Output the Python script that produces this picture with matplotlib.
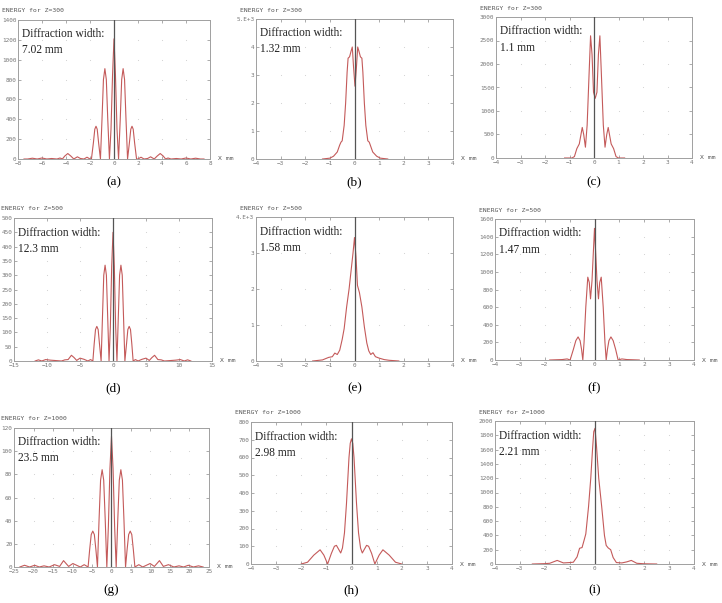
import numpy as np
import matplotlib
matplotlib.use('Agg')
import matplotlib.pyplot as plt

# ---- data (x in mm, energy) ----
x_a = [-7.5, -7.2, -6.8, -6.4, -6.0, -5.6, -5.2, -4.75, -4.5, -4.3, -4.1, -3.85, -3.6, -3.35, -3.05, -2.8, -2.5, -2.25, -2.0,
       -1.88, -1.72, -1.6, -1.5, -1.4, -1.28, -1.13, -1.0, -0.88, -0.76, -0.64, -0.52, -0.38, -0.25, -0.12,
       0.0, 0.12, 0.25, 0.38, 0.52, 0.64, 0.76, 0.88, 1.0, 1.13, 1.28, 1.4, 1.5, 1.6, 1.72, 1.88,
       2.0, 2.25, 2.5, 2.8, 3.05, 3.35, 3.6, 3.85, 4.1, 4.3, 4.5, 4.75, 5.2, 5.6, 6.0, 6.4, 6.8, 7.2, 7.5]
e_a = [0, 0, 8, 0, 10, 0, 5, 0, 10, 0, 30, 55, 30, 0, 22, 5, 0, 18, 0,
       0, 160, 300, 330, 300, 160, 0, 400, 800, 910, 800, 400, 0, 300, 850,
       1210, 850, 300, 0, 400, 800, 910, 800, 400, 0, 160, 300, 330, 300, 160, 0,
       0, 18, 0, 5, 22, 0, 30, 55, 30, 0, 10, 0, 5, 0, 10, 0, 8, 0, 0]

x_b = [-1.3, -1.0, -0.85, -0.7, -0.6, -0.55, -0.5, -0.42, -0.36, -0.3, -0.26, -0.2, -0.14, -0.09, -0.04,
       0.02, 0.08, 0.13, 0.18, 0.24, 0.3, 0.34, 0.4, 0.46, 0.54, 0.6, 0.64, 0.74, 0.9, 1.05, 1.35]
e_b = [0, 0.03, 0.1, 0.25, 0.5, 0.6, 0.65, 1.2, 2.0, 3.1, 3.6, 3.65, 3.85, 4.0, 3.3,
       2.6, 3.3, 4.0, 3.85, 3.65, 3.6, 3.1, 2.0, 1.2, 0.65, 0.6, 0.5, 0.25, 0.1, 0.03, 0]

x_c = [-1.2, -0.9, -0.8, -0.7, -0.6, -0.48, -0.42, -0.35, -0.28, -0.2, -0.14, -0.08, -0.02,
       0.05, 0.12, 0.18, 0.24, 0.3, 0.38, 0.45, 0.52, 0.58, 0.7, 0.8, 0.9, 1.0, 1.25]
e_c = [0, 0, 30, 200, 300, 650, 500, 230, 700, 1800, 2600, 2200, 1400,
       1270, 1400, 2200, 2600, 1800, 700, 230, 500, 650, 300, 200, 30, 0, 0]

x_d = [-11.8, -11.3, -10.8, -10.2, -9.5, -7.8, -7.3, -6.8, -6.3, -5.9, -5.5, -5.0, -4.4, -3.8, -3.4, -3.05,
       -2.85, -2.65, -2.45, -2.25, -2.05, -1.8, -1.6, -1.4, -1.2, -1.0, -0.8, -0.6, -0.4, -0.2,
       0.0, 0.2, 0.4, 0.6, 0.8, 1.0, 1.2, 1.4, 1.6, 1.8, 2.05, 2.25, 2.45, 2.65, 2.85,
       3.05, 3.4, 3.8, 4.4, 5.0, 5.5, 5.9, 6.3, 6.8, 7.3, 7.8, 9.5, 10.2, 10.8, 11.3, 11.8]
e_d = [0, 4, 0, 5, 3, 0, 4, 5, 20, 12, 2, 10, 6, 0, 5, 0,
       60, 110, 121, 110, 60, 0, 150, 300, 335, 300, 150, 0, 120, 330,
       450, 330, 120, 0, 150, 300, 335, 300, 150, 0, 60, 110, 121, 110, 60,
       0, 5, 0, 6, 10, 2, 12, 20, 5, 4, 0, 3, 5, 0, 4, 0]

x_e = [-1.7, -1.3, -1.05, -0.9, -0.8, -0.7, -0.6, -0.5, -0.42, -0.32, -0.22, -0.14, -0.06, 0.0,
       0.06, 0.12, 0.2, 0.3, 0.4, 0.5, 0.58, 0.66, 0.75, 0.85, 1.0, 1.2, 1.4, 1.8]
e_e = [0, 0.03, 0.1, 0.12, 0.22, 0.18, 0.3, 0.6, 0.9, 1.5, 2.0, 2.5, 3.0, 3.43,
       2.9, 2.1, 1.9, 1.5, 0.95, 0.5, 0.28, 0.18, 0.23, 0.12, 0.08, 0.04, 0.02, 0]

x_f = [-1.8, -1.3, -1.1, -0.98, -0.85, -0.75, -0.66, -0.58, -0.52, -0.47, -0.42, -0.35, -0.27, -0.21, -0.16,
       -0.1, -0.05, 0.0, 0.05, 0.1, 0.16, 0.21, 0.27, 0.35, 0.42, 0.47, 0.52, 0.58, 0.66, 0.75, 0.85,
       0.95, 1.1, 1.3, 1.8]
e_f = [0, 5, 12, 0, 120, 220, 262, 220, 120, 0, 200, 600, 940, 880, 694,
       900, 1200, 1494, 1200, 900, 694, 880, 940, 600, 200, 0, 120, 220, 262, 220, 120,
       0, 12, 5, 0]

x_g = [-23.5, -22.3, -21.0, -19.7, -18.5, -17.3, -16.0, -14.6, -13.3, -12.3, -11.0, -9.9, -8.0, -7.0, -6.0,
       -5.6, -5.2, -4.8, -4.4, -4.0, -3.6, -3.2, -2.8, -2.4, -2.0, -1.6, -1.2, -0.8, -0.4,
       0.0, 0.4, 0.8, 1.2, 1.6, 2.0, 2.4, 2.8, 3.2, 3.6, 4.0, 4.4, 4.8, 5.2, 5.6,
       6.0, 7.0, 8.0, 9.9, 11.0, 12.3, 13.3, 14.6, 16.0, 17.3, 18.5, 19.7, 21.0, 22.3, 23.5]
e_g = [0, 1.5, 0, 1.5, 0, 1, 0, 2, 0.5, 5.5, 0.5, 3, 0, 2, 0,
       15, 28, 31, 28, 15, 0, 40, 75, 84, 75, 40, 0, 35, 85,
       112.8, 85, 35, 0, 40, 75, 84, 75, 40, 0, 15, 28, 31, 28, 15,
       0, 2, 0, 3, 0.5, 5.5, 0.5, 2, 0, 1, 0, 1.5, 0, 1, 0]

x_h = [-2.0, -1.75, -1.5, -1.25, -1.1, -0.95, -0.8, -0.68, -0.6, -0.52, -0.43, -0.36, -0.28, -0.2, -0.15,
       -0.1, -0.05, 0.0, 0.05, 0.1, 0.15, 0.2, 0.28, 0.36, 0.43, 0.52, 0.6, 0.68, 0.8, 0.93,
       1.1, 1.25, 1.5, 1.75, 2.0]
e_h = [0, 10, 50, 80, 50, 0, 60, 100, 105, 85, 62, 90, 175, 340, 470,
       600, 680, 705, 680, 600, 470, 340, 175, 90, 62, 85, 105, 100, 60, 0,
       50, 80, 50, 10, 0]

x_i = [-2.5, -2.0, -1.8, -1.5, -1.25, -1.0, -0.85, -0.7, -0.6, -0.5, -0.42, -0.35, -0.24, -0.15, -0.08,
       -0.03, 0.02, 0.08, 0.17, 0.29, 0.4, 0.47, 0.55, 0.65, 0.75, 0.88, 1.1, 1.3, 1.48, 1.7, 2.0, 2.5]
e_i = [0, 5, 10, 50, 15, 20, 25, 100, 220, 230, 330, 420, 800, 1200, 1600,
       1850, 1898, 1650, 1200, 800, 400, 260, 225, 200, 90, 20, 15, 30, 50, 10, 3, 0]

titles = ['ENERGY for Z=300'] * 3 + ['ENERGY for Z=500'] * 3 + ['ENERGY for Z=1000'] * 3
widths = ['7.02 mm', '1.32 mm', '1.1 mm', '12.3 mm', '1.58 mm', '1.47 mm', '23.5 mm', '2.98 mm', '2.21 mm']
letters = ['(a)', '(b)', '(c)', '(d)', '(e)', '(f)', '(g)', '(h)', '(i)']

xt_8 = [-8, -6, -4, -2, 0, 2, 4, 6, 8]
xt_4 = [-4, -3, -2, -1, 0, 1, 2, 3, 4]
xt_15 = [-15, -10, -5, 0, 5, 10, 15]
xt_25 = [-25, -20, -15, -10, -5, 0, 5, 10, 15, 20, 25]

yt_a = [0, 200, 400, 600, 800, 1000, 1200, 1400]
yt_b = [0, 1, 2, 3, 4, 5]
yl_b = ['0', '1', '2', '3', '4', '5.E+3']
yt_c = [0, 500, 1000, 1500, 2000, 2500, 3000]
yt_d = [0, 50, 100, 150, 200, 250, 300, 350, 400, 450, 500]
yt_e = [0, 1, 2, 3, 4]
yl_e = ['0', '1', '2', '3', '4.E+3']
yt_f = [0, 200, 400, 600, 800, 1000, 1200, 1400, 1600]
yt_g = [0, 20, 40, 60, 80, 100, 120]
yt_h = [0, 100, 200, 300, 400, 500, 600, 700, 800]
yt_i = [0, 200, 400, 600, 800, 1000, 1200, 1400, 1600, 1800, 2000]

# axes boxes in pixels: left, right, top, bottom
boxes = [(18, 210, 20, 159), (256, 453, 19, 159), (496, 692, 17, 158),
         (14, 212, 218, 361), (256, 453, 217, 361), (495, 694, 219, 360),
         (14, 209, 428, 567), (251, 452, 422, 564), (495, 694, 421, 564)]
label_y = [182, 182, 182, 388, 388, 388, 590, 590, 590]

panels = [(x_a, e_a, xt_8, yt_a, None),
          (x_b, e_b, xt_4, yt_b, yl_b),
          (x_c, e_c, xt_4, yt_c, None),
          (x_d, e_d, xt_15, yt_d, None),
          (x_e, e_e, xt_4, yt_e, yl_e),
          (x_f, e_f, xt_4, yt_f, None),
          (x_g, e_g, xt_25, yt_g, None),
          (x_h, e_h, xt_4, yt_h, None),
          (x_i, e_i, xt_4, yt_i, None)]

W, H = 722, 603
fig = plt.figure(figsize=(W / 100, H / 100), dpi=100)

mono = 'DejaVu Sans Mono'
serif = 'Liberation Serif'
gray = '#8a8a8a'

for k, (xs, es, xt, yt, yl) in enumerate(panels):
    l, r, t, b = boxes[k]
    ax = fig.add_axes([l / W, 1 - b / H, (r - l) / W, (b - t) / H])
    ax.set_xlim(xt[0], xt[-1])
    ax.set_ylim(yt[0], yt[-1])

    # dotted grid: faint dots at tick crossings
    gx, gy = np.meshgrid(xt[1:-1], yt[1:-1])
    ax.scatter(gx.ravel(), gy.ravel(), s=0.6, color='#cfcfcf', zorder=1, linewidths=0)

    ax.plot(xs, es, color='#c45a5a', lw=0.8, zorder=3)
    ax.axvline(0, color='#555555', lw=0.9, zorder=4)

    ax.set_xticks(xt)
    ax.set_yticks(yt)
    if yl is not None:
        ax.set_yticklabels(yl)
    ax.tick_params(direction='in', length=2, width=0.5, colors=gray, labelsize=4.3,
                   top=True, right=True, pad=1.2)
    for lab in ax.get_xticklabels() + ax.get_yticklabels():
        lab.set_family(mono)
        lab.set_color('#777777')
    for s in ax.spines.values():
        s.set_color('#a0a0a0')
        s.set_linewidth(0.7)

    tx = max(1, l - 16)
    ax.text(-(l - tx) / (r - l), 1 + 9 / (b - t), titles[k], transform=ax.transAxes,
            fontsize=4.6, family=mono, color='#555555', va='center', ha='left')
    ax.text(1 + 8 / (r - l), 0, 'X mm', transform=ax.transAxes,
            fontsize=4.6, family=mono, color='#555555', va='center', ha='left')
    ax.text(0.02, 0.94, 'Diffraction width:\n' + widths[k], transform=ax.transAxes,
            fontsize=8.3, family=serif, color='#222222', va='top', ha='left', linespacing=1.45)

    fig.text((l + r) / 2 / W, 1 - label_y[k] / H, letters[k], fontsize=9.5,
             family=serif, ha='center', va='center')

fig.savefig('out.png', dpi=100)
